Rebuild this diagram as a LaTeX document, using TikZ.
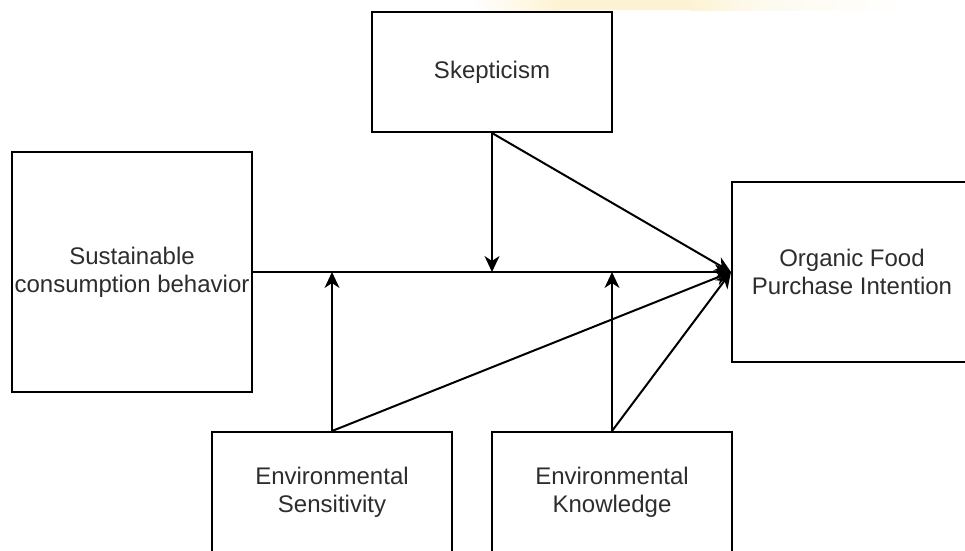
\documentclass[tikz,border=0pt]{standalone}
\usepackage{fontspec}
\setmainfont{Liberation Sans}
\usetikzlibrary{arrows.meta}
\definecolor{txtgray}{RGB}{45,45,45}
\definecolor{wmyellow}{RGB}{253,243,212}
\definecolor{wmpale}{RGB}{253,250,238}
\begin{document}
\begin{tikzpicture}[x=1pt,y=-1pt,
  box/.style={draw=black,line width=2pt,fill=white,rectangle,inner sep=0pt,
    minimum width=240pt,align=center,text=txtgray,font=\fontsize{24pt}{28pt}\selectfont},
  conn/.style={draw=black,line width=2pt,-{Stealth[length=16pt,width=15pt,inset=5pt]}}]
\clip (0,0) rectangle (965,550);
\fill[white] (0,0) rectangle (965,550);
% faint watermark remnant at the top
\shade[left color=white,right color=wmyellow] (470,0) rectangle (560,10);
\fill[wmyellow] (560,0) rectangle (690,10);
\shade[left color=wmyellow,right color=wmpale] (690,0) rectangle (760,10);
\shade[left color=wmpale,right color=white] (760,0) rectangle (910,10);
% boxes
\node[box,minimum height=120pt] (sk) at (492,72) {Skepticism};
\node[box,minimum height=240pt] (sus) at (132,272) {Sustainable\\consumption behavior};
\node[box,minimum height=180pt] (org) at (852,272) {Organic Food\\Purchase Intention};
\node[box,minimum height=120pt] (es) at (332,492) {Environmental\\Sensitivity};
\node[box,minimum height=120pt] (ek) at (612,492) {Environmental\\Knowledge};
% connectors
\draw[conn] (sus.east) -- (org.west);
\draw[conn] (sk.south) -- (sk.south |- sus.east);
\draw[conn] (sk.south) -- (org.west);
\draw[conn] (es.north) -- (es.north |- sus.east);
\draw[conn] (es.north) -- (org.west);
\draw[conn] (ek.north) -- (ek.north |- sus.east);
\draw[conn] (ek.north) -- (org.west);
\end{tikzpicture}
\end{document}
